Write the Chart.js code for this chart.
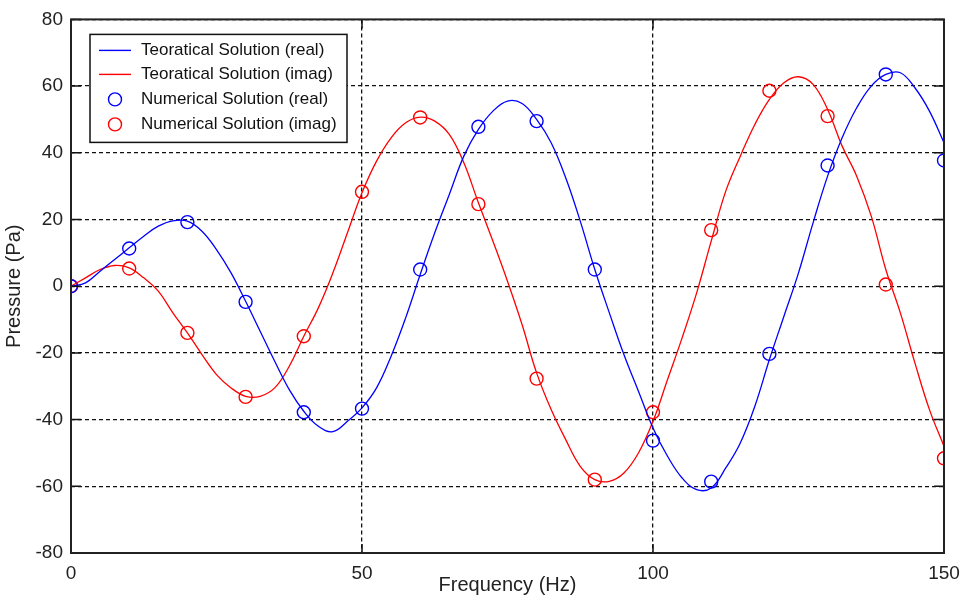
<!DOCTYPE html>
<html>
<head>
<meta charset="utf-8">
<script src="https://cdn.jsdelivr.net/npm/chart.js@4/dist/chart.umd.min.js"></script>
<style>
  html, body { margin: 0; padding: 0; background: #fff; }
  #wrap { width: 962px; height: 599px; }
</style>
</head>
<body>
<div id="wrap"><canvas id="pressureChart" width="962" height="599"></canvas></div>
<script>
// frequency grid of the smooth (theoretical) curves
const freqTheory = [0, 2.5, 5, 7.5, 10, 12.5, 15, 17.5, 20, 22.5, 25, 27.5, 30, 32.5, 35, 37.5, 40, 42.5, 45, 47.5,
  50, 52.5, 55, 57.5, 60, 62.5, 65, 67.5, 70, 72.5, 75, 77.5, 80, 82.5, 85, 87.5, 90, 92.5, 95, 97.5,
  100, 102.5, 105, 107.5, 110, 112.5, 115, 117.5, 120, 122.5, 125, 127.5, 130, 132.5, 135, 137.5, 140, 142.5, 145, 147.5, 150];
const realTheory = [0, 1, 4.5, 8, 11.5, 15, 18, 19.6, 19.5, 16.5, 11, 4, -4.5, -13.5, -22.5, -31, -37.5, -42, -43.6, -40.5,
  -36.5, -30.5, -21, -9.5, 3.5, 16, 27.5, 39, 47, 52.5, 55.5, 54.8, 50, 43, 32.5, 19.5, 5, -8, -20.5, -31.5,
  -42.5, -51, -57.5, -61, -60.5, -54.5, -47, -36, -22, -9, 4, 19, 33, 44.5, 53.5, 60, 63.5, 64, 59.5, 52.5, 43];
const imagTheory = [0, 2.5, 5, 6.2, 5.5, 2.5, -1.5, -8, -14, -20.5, -26.5, -30.5, -33, -33, -30.5, -24, -15, -6.5, 4, 16,
  28, 37.5, 44.5, 49, 50.7, 49.5, 45.5, 37, 25, 13.5, 1.5, -11.5, -26, -37, -46, -54, -58, -58.5, -56, -50,
  -40.5, -28, -15.5, -2, 13.5, 28.5, 39, 48.5, 56, 61, 62.8, 60.5, 53, 42, 33, 21, 5, -8, -23, -37, -48];

// numerical solution markers
const freqNum = [0, 10, 20, 30, 40, 50, 60, 70, 80, 90, 100, 110, 120, 130, 140, 150];
const realNum = [0, 11.3, 19.2, -4.7, -37.8, -36.7, 5, 47.8, 49.5, 5, -46.3, -58.6, -20.3, 36.2, 63.5, 37.7];
const imagNum = [0, 5.3, -14, -33.2, -15, 28.3, 50.6, 24.6, -27.7, -58, -37.8, 16.8, 58.6, 51, 0.5, -51.6];

const xTicks = [0, 50, 100, 150];
const yTicks = [-80, -60, -40, -20, 0, 20, 40, 60, 80];

const seriesLabels = ['Teoratical Solution (real)', 'Teoratical Solution (imag)',
  'Numerical Solution (real)', 'Numerical Solution (imag)'];

const BLUE = '#0000ff';
const RED = '#ff0000';
const FONT = '"Liberation Sans", Arial, sans-serif';

function pairs(xs, ys) {
  return xs.map((x, i) => ({ x: x, y: ys[i] }));
}

// box around the plot plus small inward ticks (matlab style)
const framePlugin = {
  id: 'frame',
  afterDatasetsDraw(chart) {
    const a = chart.chartArea;
    const ctx = chart.ctx;
    const xs = chart.scales.x, ys = chart.scales.y;
    ctx.save();
    ctx.strokeStyle = '#111';
    ctx.lineWidth = 1.5;
    ctx.beginPath();
    xTicks.forEach(v => {
      const px = xs.getPixelForValue(v);
      ctx.moveTo(px, a.bottom); ctx.lineTo(px, a.bottom - 9);
      ctx.moveTo(px, a.top); ctx.lineTo(px, a.top + 9);
    });
    yTicks.forEach(v => {
      const py = ys.getPixelForValue(v);
      ctx.moveTo(a.left, py); ctx.lineTo(a.left + 10, py);
      ctx.moveTo(a.right, py); ctx.lineTo(a.right - 10, py);
    });
    ctx.stroke();
    ctx.lineWidth = 2;
    ctx.strokeStyle = '#222';
    ctx.strokeRect(a.left, a.top, a.right - a.left, a.bottom - a.top);
    ctx.restore();
  }
};

// legend box drawn inside the plot area, top left
const legendPlugin = {
  id: 'insideLegend',
  afterDraw(chart) {
    const ctx = chart.ctx;
    const a = chart.chartArea;
    const bx = a.left + 19, by = a.top + 15, bw = 257, bh = 108;
    ctx.save();
    ctx.fillStyle = '#fff';
    ctx.fillRect(bx, by, bw, bh);
    ctx.strokeStyle = '#111';
    ctx.lineWidth = 1.5;
    ctx.strokeRect(bx, by, bw, bh);
    ctx.font = '17px ' + FONT;
    ctx.textBaseline = 'middle';
    const rowY = [16, 40, 65, 90];
    chart.data.datasets.forEach((ds, i) => {
      const y = by + rowY[i];
      ctx.strokeStyle = ds.borderColor;
      ctx.lineWidth = 1.4;
      if (ds.showLine === false) {
        ctx.beginPath();
        ctx.arc(bx + 25, y, 6.5, 0, Math.PI * 2);
        ctx.stroke();
      } else {
        ctx.beginPath();
        ctx.moveTo(bx + 9, y);
        ctx.lineTo(bx + 41, y);
        ctx.stroke();
      }
      ctx.fillStyle = '#111';
      ctx.fillText(ds.label, bx + 51, y);
    });
    ctx.restore();
  }
};

const ctx = document.getElementById('pressureChart').getContext('2d');
const myChart = new Chart(ctx, {
  type: 'line',
  data: {
    datasets: [
      {
        label: seriesLabels[0],
        data: pairs(freqTheory, realTheory),
        borderColor: BLUE,
        borderWidth: 1.3,
        pointRadius: 0,
        tension: 0.4,
        fill: false
      },
      {
        label: seriesLabels[1],
        data: pairs(freqTheory, imagTheory),
        borderColor: RED,
        borderWidth: 1.3,
        pointRadius: 0,
        tension: 0.4,
        fill: false
      },
      {
        label: seriesLabels[2],
        data: pairs(freqNum, realNum),
        borderColor: BLUE,
        backgroundColor: 'rgba(0,0,0,0)',
        showLine: false,
        pointStyle: 'circle',
        pointRadius: 6.5,
        pointBorderWidth: 1.4
      },
      {
        label: seriesLabels[3],
        data: pairs(freqNum, imagNum),
        borderColor: RED,
        backgroundColor: 'rgba(0,0,0,0)',
        showLine: false,
        pointStyle: 'circle',
        pointRadius: 6.5,
        pointBorderWidth: 1.4
      }
    ]
  },
  options: {
    responsive: false,
    animation: false,
    devicePixelRatio: 1,
    layout: { padding: { top: 18, right: 18, left: 2, bottom: 0 } },
    plugins: {
      legend: { display: false },
      tooltip: { enabled: false }
    },
    scales: {
      x: {
        type: 'linear',
        min: 0,
        max: 150,
        afterBuildTicks: axis => { axis.ticks = xTicks.map(v => ({ value: v })); },
        afterFit: axis => { axis.height = 46; axis.paddingLeft = 0; axis.paddingRight = 0; },
        ticks: { color: '#222', font: { family: FONT, size: 19 }, padding: 9 },
        grid: { color: '#111', lineWidth: 1.3, drawTicks: false },
        border: { display: false, dash: [4, 3] },
        title: {
          display: true,
          text: 'Frequency (Hz)',
          color: '#222',
          font: { family: FONT, size: 20 },
          padding: { top: 0, bottom: 2 }
        }
      },
      y: {
        min: -80,
        max: 80,
        afterBuildTicks: axis => { axis.ticks = yTicks.map(v => ({ value: v })); },
        afterFit: axis => { axis.width = 69; },
        ticks: { color: '#222', font: { family: FONT, size: 19 }, padding: 8 },
        grid: { color: '#111', lineWidth: 1.3, drawTicks: false },
        border: { display: false, dash: [4, 3] },
        title: {
          display: true,
          text: 'Pressure (Pa)',
          color: '#222',
          font: { family: FONT, size: 20 },
          padding: { top: 0, bottom: 2 }
        }
      }
    }
  },
  plugins: [framePlugin, legendPlugin]
});
</script>
</body>
</html>
